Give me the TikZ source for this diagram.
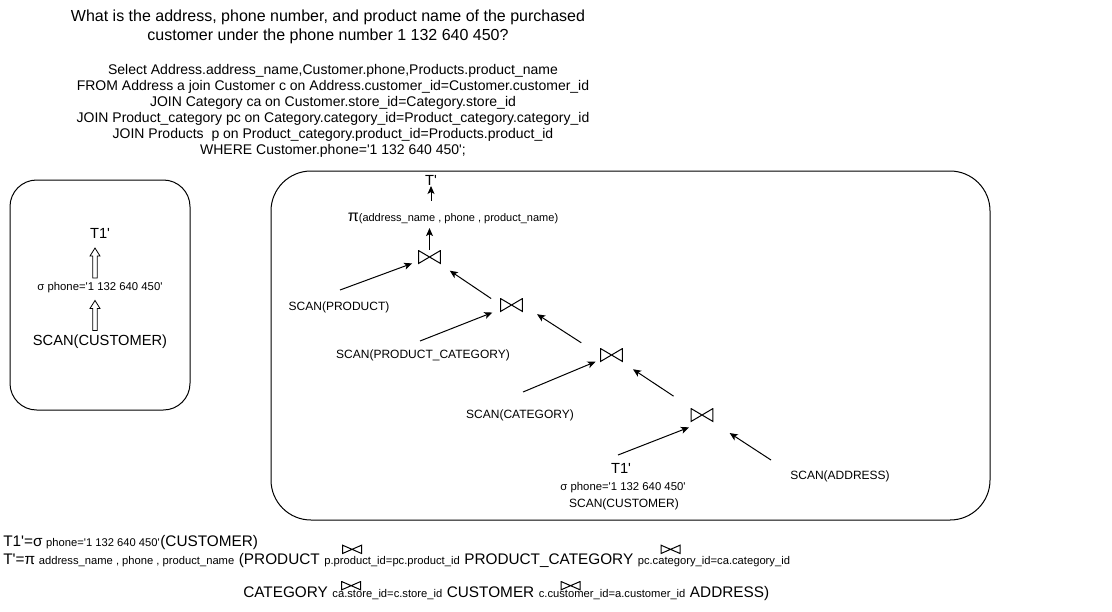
\documentclass[tikz,border=0pt]{standalone}
\usepackage{fontspec}
\setmainfont{Liberation Sans}
\usetikzlibrary{arrows.meta,positioning}
\newcommand\q{\textquotesingle}

\begin{document}
\begin{tikzpicture}[x=0.75pt,y=-0.75pt,font=\fontsize{9pt}{11pt}\selectfont,
    node distance=3pt,
    arr/.style={-{Stealth[length=6pt,width=5.25pt,inset=1.5pt]},line width=0.75pt},
    joinop/.style={minimum width=17.25pt,minimum height=10.5pt,inner sep=0pt,
      path picture={\draw[line width=0.75pt]
        ([xshift=.4pt,yshift=-.4pt]path picture bounding box.north west) --
        ([xshift=-.4pt,yshift=.4pt]path picture bounding box.south east) --
        ([xshift=-.4pt,yshift=-.4pt]path picture bounding box.north east) --
        ([xshift=.4pt,yshift=.4pt]path picture bounding box.south west) -- cycle;}},
    eqjoin/.style={joinop,minimum width=15pt,minimum height=7pt},
    hollowup/.pic={\draw[line width=0.6pt,fill=white]
      (-1.75pt,0pt) -- (-1.75pt,16.5pt) -- (-3.75pt,16.5pt) -- (0pt,22.5pt)
      -- (3.75pt,16.5pt) -- (1.75pt,16.5pt) -- (1.75pt,0pt) -- cycle;},
    small/.style={font=\fontsize{8.5pt}{10pt}\selectfont},
    big/.style={font=\fontsize{11pt}{13pt}\selectfont},
    eqb/.style={inner sep=0pt,font=\fontsize{11.5pt}{14pt}\selectfont},
    eqs/.style={inner sep=0pt,font=\fontsize{8.4pt}{10pt}\selectfont}]
  \useasboundingbox (0,0) rectangle (1112,611);

  \node[align=center,font=\fontsize{12pt}{14.25pt}\selectfont] (title) at (328,27)
    {What is the address, phone number, and product name of the purchased\\
     customer under the phone number 1 132 640 450?};
  \node[align=center,font=\fontsize{10.5pt}{12pt}\selectfont] (sql) at (333,111)
    {Select Address.address\_name,Customer.phone,Products.product\_name\\
     FROM Address a join Customer c on Address.customer\_id=Customer.customer\_id\\
     JOIN Category ca on Customer.store\_id=Category.store\_id\\
     JOIN Product\_category pc on Category.category\_id=Product\_category.category\_id\\
     JOIN Products\ \ p on Product\_category.product\_id=Products.product\_id\\
     WHERE Customer.phone=\q1 132 640 450\q;};

  \draw[line width=0.75pt,rounded corners=20pt] (10,180) rectangle (190,410);
  \node[big] (t1a) at (100,233) {T1\q};
  \node[small] (sela) at (100,288) {σ phone=\q1 132 640 450\q};
  \node[big] (cusa) at (100,342) {SCAN(CUSTOMER)};
  \pic at ([xshift=-3.75pt]sela.north) {hollowup};
  \pic at ([xshift=-3.75pt]cusa.north) {hollowup};

  \draw[line width=0.75pt,rounded corners=30pt] (271,171) rectangle (990,520);
  \node[inner sep=0.5pt,big] (tout) at (431,180) {T\q};
  \node[font=\fontsize{8.25pt}{10pt}\selectfont] (proj) at (453,218)
    {{\fontsize{12pt}{12pt}\selectfont π}(address\_name , phone , product\_name)};
  \node[joinop] (j1) at (429.5,257) {};
  \node[joinop] (j2) at (511.5,305) {};
  \node[joinop] (j3) at (611.5,355) {};
  \node[joinop] (j4) at (702,415) {};
  \node (sprod) at (339,307) {SCAN(PRODUCT)};
  \node (spc) at (423,355) {SCAN(PRODUCT\_CATEGORY)};
  \node (scat) at (520,415) {SCAN(CATEGORY)};
  \node[big] (t1b) at (621,468) {T1\q};
  \node[small] (selb) at (623,488) {σ phone=\q1 132 640 450\q};
  \node (cusb) at (624,504) {SCAN(CUSTOMER)};
  \node (saddr) at (840,476) {SCAN(ADDRESS)};
  \coordinate (tprod) at (340,290);
  \coordinate (tpc) at (420,341);
  \coordinate (tcat) at (523,392);
  \coordinate (tcus) at (618,455);
  \coordinate (taddr) at (771,460);

  \draw[arr] (j1.north) -- (j1.north |- proj.south);
  \draw[arr,shorten <=5.25pt] (tout.south |- proj.north) -- (tout.south);
  \draw[arr,shorten >=4.5pt] (tprod) -- (j1);
  \draw[arr,shorten <=18.4pt,shorten >=8.6pt] (j2.south) -- (j1);
  \draw[arr,shorten >=6pt] (tpc) -- (j2);
  \draw[arr,shorten <=27pt,shorten >=22.8pt] (j3.south) -- (j2.north);
  \draw[arr,shorten >=3.4pt] (tcat) -- (j3);
  \draw[arr,shorten <=15.75pt,shorten >=9.5pt] (j4) -- (j3);
  \draw[arr,shorten >=10.5pt] (tcus) -- (j4.south);
  \draw[arr,shorten >=14.8pt] (taddr) -- (j4);

  \node[eqb,anchor=base west] (e1a) at (3,546) {T1\q=σ};
  \node[eqs,base right=2.4pt of e1a] (e1b) {phone=\q1 132 640 450\q};
  \node[eqb,base right=0pt of e1b] (e1c) {(CUSTOMER)};

  \node[eqb,anchor=base west] (e2a) at (3,564) {T\q=π};
  \node[eqs,base right=2.4pt of e2a] (e2b) {address\_name , phone , product\_name};
  \node[eqb,base right=of e2b] (e2c) {(PRODUCT};
  \node[eqs,base right=of e2c] (e2d) {p.product\_id=pc.product\_id};
  \node[eqb,base right=of e2d] (e2e) {PRODUCT\_CATEGORY};
  \node[eqs,base right=of e2e] (e2f) {pc.category\_id=ca.category\_id};

  \node[eqb,anchor=base west] (e3a) at (243,597) {CATEGORY};
  \node[eqs,base right=of e3a] (e3b) {ca.store\_id=c.store\_id};
  \node[eqb,base right=of e3b] (e3c) {CUSTOMER};
  \node[eqs,base right=of e3c] (e3d) {c.customer\_id=a.customer\_id};
  \node[eqb,base right=of e3d] (e3e) {ADDRESS)};

  \node[eqjoin] (bt1) at ([xshift=21pt,yshift=11pt]e2d.base west) {};
  \node[eqjoin] (bt2) at ([xshift=24.75pt,yshift=11pt]e2f.base west) {};
  \node[eqjoin] (bt3) at ([xshift=14.25pt,yshift=8.5pt]e3b.base west) {};
  \node[eqjoin] (bt4) at ([xshift=24pt,yshift=8.5pt]e3d.base west) {};
\end{tikzpicture}
\end{document}
